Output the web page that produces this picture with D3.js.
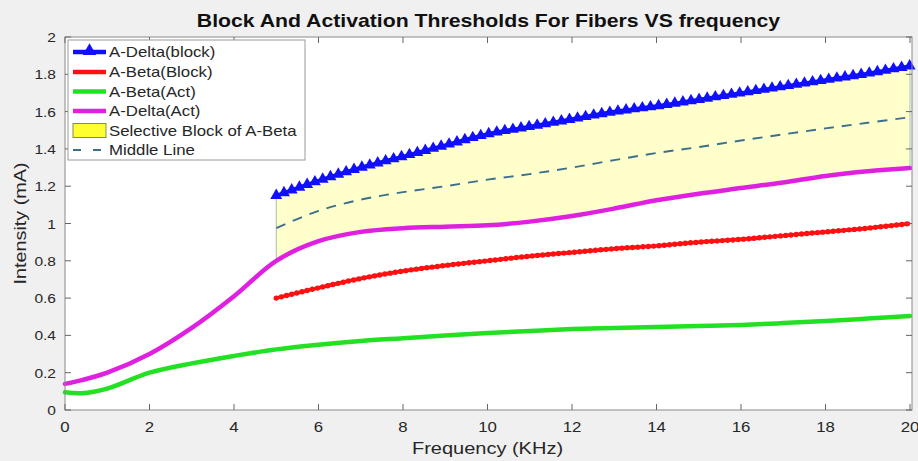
<!DOCTYPE html>
<html><head><meta charset="utf-8">
<script src="https://cdn.jsdelivr.net/npm/d3@7"></script>
<style>
html,body{margin:0;padding:0;background:#f0f0f0;}
svg{display:block;font-family:"Liberation Sans",Arial,sans-serif;}
</style></head>
<body>
<svg id="chart" width="918" height="461"></svg>
<script>
// ---- data ----
const freqAct   = [0,0.4,1,2,3,4,5,6,7,8,9,10,11,12,13,14,15,16,17,18,19,20];
const betaAct   = [0.095,0.09,0.115,0.2,0.25,0.29,0.325,0.35,0.37,0.385,0.40,0.413,0.424,0.434,0.44,0.445,0.45,0.456,0.466,0.477,0.49,0.504];
const deltaAct  = [0.14,0.16,0.2,0.3,0.44,0.61,0.8,0.905,0.955,0.975,0.983,0.99,1.01,1.04,1.08,1.125,1.16,1.19,1.22,1.255,1.28,1.297];
const freqBlock = [5,6,7,8,9,10,11,12,13,14,15,16,17,18,19,20];
const deltaBlock= [1.15,1.23,1.30,1.36,1.42,1.48,1.52,1.56,1.60,1.63,1.665,1.70,1.735,1.77,1.805,1.845];
const betaBlock = [0.6,0.655,0.705,0.745,0.775,0.80,0.825,0.845,0.865,0.88,0.9,0.915,0.935,0.955,0.975,1.0];
const middleLine= [0.975,1.068,1.128,1.168,1.2,1.235,1.265,1.3,1.34,1.378,1.41,1.445,1.478,1.51,1.54,1.57];
const xTicks = [0,2,4,6,8,10,12,14,16,18,20];
const yTicks = [0,0.2,0.4,0.6,0.8,1,1.2,1.4,1.6,1.8,2];
const legendLabels = ["A-Delta(block)","A-Beta(Block)","A-Beta(Act)","A-Delta(Act)","Selective Block of A-Beta","Middle Line"];
const titleText = "Block And Activation Thresholds For Fibers VS frequency";

const L=65, R=910, T=37, B=410;
const SX = 1.2; // horizontal text stretch seen in the reference
const svg = d3.select("#chart");
const x = d3.scaleLinear().domain([0,20]).range([L,R]);
const y = d3.scaleLinear().domain([0,2]).range([B,T]);

function txt(parent, px, py, s, size, anchor, sx, extra){
  const t = parent.append("text").attr("transform",`translate(${px},${py}) scale(${sx},1)`)
    .attr("text-anchor",anchor).attr("font-size",size).attr("fill","#262626").text(s);
  if(extra) extra(t);
  return t;
}

// plot area
svg.append("rect").attr("x",L).attr("y",T).attr("width",R-L+2).attr("height",B-T).attr("fill","#fff");

const curve = d3.curveCatmullRom.alpha(0.5);
const toPts = (xs,ys)=>xs.map((v,i)=>[v,ys[i]]);
const line = d3.line().x(d=>x(d[0])).y(d=>y(d[1])).curve(curve);

// fill between delta act and delta block
const fillPts = freqBlock.map((f,i)=>({x:f, lo:deltaAct[freqAct.indexOf(f)], hi:deltaBlock[i]}));
const area = d3.area().x(d=>x(d.x)).y0(d=>y(d.lo)).y1(d=>y(d.hi)).curve(curve);
svg.append("path").attr("d",area(fillPts)).attr("fill","#ffff00").attr("fill-opacity",0.2)
  .attr("stroke","#8fb0a0").attr("stroke-width",0.8);

// green
svg.append("path").attr("d",line(toPts(freqAct,betaAct))).attr("fill","none")
  .attr("stroke","#22e022").attr("stroke-width",4.5).attr("stroke-linecap","round");
// magenta
svg.append("path").attr("d",line(toPts(freqAct,deltaAct))).attr("fill","none")
  .attr("stroke","#e020e0").attr("stroke-width",4.5).attr("stroke-linecap","round");
// middle dashed
svg.append("path").attr("d",line(toPts(freqBlock,middleLine))).attr("fill","none")
  .attr("stroke","#3c6f8e").attr("stroke-width",1.9).attr("stroke-dasharray","10,8");

// red with dots
const redPath = svg.append("path").attr("d",line(toPts(freqBlock,betaBlock))).attr("fill","none")
  .attr("stroke","#ff1010").attr("stroke-width",3.5);
{
  const n = redPath.node(), len = n.getTotalLength();
  const g = svg.append("g");
  for(let s=0;s<=len;s+=5.3){const p=n.getPointAtLength(s);
    g.append("circle").attr("cx",p.x).attr("cy",p.y).attr("r",2.7).attr("fill","#ff1010");}
}
// blue with triangles
const bluePath = svg.append("path").attr("d",line(toPts(freqBlock,deltaBlock))).attr("fill","none")
  .attr("stroke","#1010ff").attr("stroke-width",3.5);
const tri = d3.symbol().type(d3.symbolTriangle).size(62);
{
  const n = bluePath.node(), len = n.getTotalLength();
  const g = svg.append("g");
  for(let s=0;s<=len+0.1;s+=8.2){const p=n.getPointAtLength(Math.min(s,len));
    g.append("path").attr("d",tri()).attr("transform",`translate(${p.x},${p.y})`).attr("fill","#1010ff");}
}

// axes box
svg.append("rect").attr("x",L).attr("y",T).attr("width",R-L+2).attr("height",B-T)
  .attr("fill","none").attr("stroke","#8a8a8a").attr("stroke-width",1);

const tickCol="#666";
const gx = svg.append("g");
xTicks.forEach(t=>{
  gx.append("line").attr("x1",x(t)).attr("x2",x(t)).attr("y1",B).attr("y2",B-6).attr("stroke",tickCol);
  gx.append("line").attr("x1",x(t)).attr("x2",x(t)).attr("y1",T).attr("y2",T+6).attr("stroke",tickCol);
  txt(gx, x(t), B+22, t, 14, "middle", SX);
});
const gy = svg.append("g");
yTicks.forEach(t=>{
  gy.append("line").attr("x1",L).attr("x2",L+6).attr("y1",y(t)).attr("y2",y(t)).attr("stroke",tickCol);
  gy.append("line").attr("x1",R+2).attr("x2",R-4).attr("y1",y(t)).attr("y2",y(t)).attr("stroke",tickCol);
  txt(gy, 56, y(t)+5, t, 13.5, "end", 1.15);
});

// labels
txt(svg, (L+R)/2+1, 27, titleText, 18, "middle", 1.18, t=>t.attr("font-weight","bold").attr("fill","#111"));
txt(svg, (L+R)/2, 454, "Frequency (KHz)", 16, "middle", 1.25);
svg.append("text").attr("transform",`translate(26,${(T+B)/2}) rotate(-90)`).attr("text-anchor","middle")
  .attr("font-size",16.5).attr("fill","#262626").attr("textLength",122).attr("lengthAdjust","spacingAndGlyphs")
  .text("Intensity (mA)");

// legend
const lg = svg.append("g");
lg.append("rect").attr("x",68).attr("y",40).attr("width",237).attr("height",120)
  .attr("fill","#fff").attr("stroke","#9a9a9a");
const rowY = [52,72,91.5,111,130.5,150];
const lx1=73, lx2=106, tx=109;
lg.append("line").attr("x1",lx1).attr("x2",lx2).attr("y1",rowY[0]).attr("y2",rowY[0]).attr("stroke","#1010ff").attr("stroke-width",4.5);
lg.append("path").attr("d",d3.symbol().type(d3.symbolTriangle).size(80)()).attr("transform",`translate(89.5,${rowY[0]-1})`).attr("fill","#1010ff");
lg.append("line").attr("x1",lx1).attr("x2",lx2).attr("y1",rowY[1]).attr("y2",rowY[1]).attr("stroke","#ff1010").attr("stroke-width",4.5);
lg.append("line").attr("x1",lx1).attr("x2",lx2).attr("y1",rowY[2]).attr("y2",rowY[2]).attr("stroke","#22e022").attr("stroke-width",4.5);
lg.append("line").attr("x1",lx1).attr("x2",lx2).attr("y1",rowY[3]).attr("y2",rowY[3]).attr("stroke","#e020e0").attr("stroke-width",4.5);
lg.append("rect").attr("x",lx1).attr("y",rowY[4]-7).attr("width",lx2-lx1).attr("height",14)
  .attr("fill","#ffff30").attr("stroke","#888860").attr("stroke-width",1);
lg.append("line").attr("x1",lx1).attr("x2",lx2).attr("y1",rowY[5]).attr("y2",rowY[5]).attr("stroke","#3c6f8e").attr("stroke-width",1.9).attr("stroke-dasharray","8,12");
legendLabels.forEach((s,i)=>{
  txt(lg, tx, rowY[i]+5, s, 14, "start", 1.2);
});
</script>
</body></html>
